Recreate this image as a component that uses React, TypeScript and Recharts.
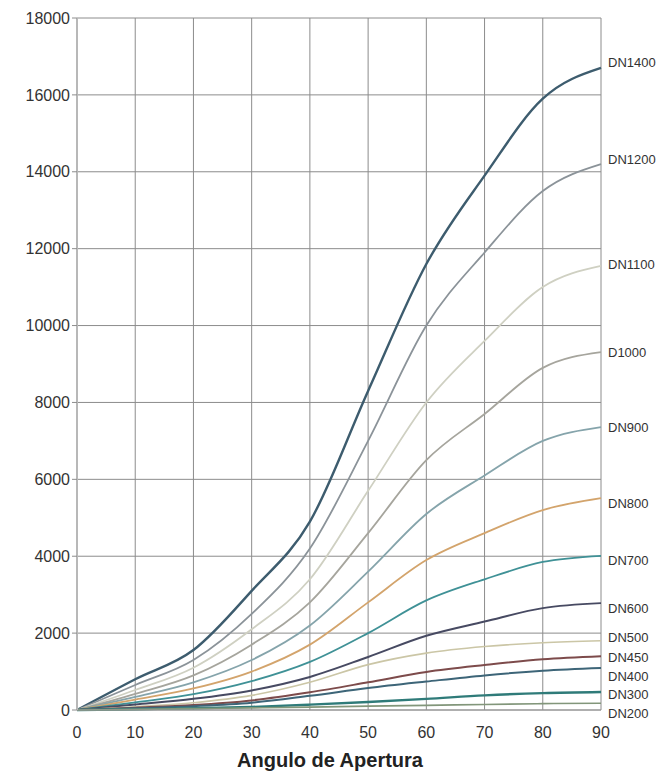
import React from 'react';
import { LineChart, Line, XAxis, YAxis, CartesianGrid } from 'recharts';

const angles = [0, 10, 20, 30, 40, 50, 60, 70, 80, 90];
const yTicks = [0, 2000, 4000, 6000, 8000, 10000, 12000, 14000, 16000, 18000];

const dn1400 = [0, 800, 1560, 3100, 4900, 8300, 11600, 13900, 15900, 16700];
const dn1200 = [0, 650, 1300, 2500, 4200, 7000, 10000, 11900, 13500, 14200];
const dn1100 = [0, 520, 1100, 2100, 3400, 5700, 8000, 9600, 11000, 11550];
const d1000 = [0, 420, 900, 1700, 2800, 4600, 6500, 7700, 8900, 9310];
const dn900 = [0, 340, 720, 1300, 2200, 3600, 5100, 6100, 7000, 7360];
const dn800 = [0, 270, 560, 1000, 1700, 2800, 3900, 4600, 5200, 5510];
const dn700 = [0, 200, 410, 750, 1250, 2000, 2850, 3400, 3850, 4010];
const dn600 = [0, 140, 290, 510, 860, 1380, 1930, 2300, 2650, 2780];
const dn500 = [0, 85, 190, 380, 720, 1180, 1480, 1650, 1750, 1800];
const dn450 = [0, 60, 130, 250, 460, 720, 990, 1170, 1320, 1400];
const dn400 = [0, 45, 100, 190, 370, 570, 740, 900, 1020, 1090];
const dn300 = [0, 20, 45, 80, 140, 210, 290, 380, 440, 470];
const dn200 = [0, 15, 35, 55, 75, 100, 120, 145, 165, 175];

const series = [
  { key: 'DN1400', values: dn1400, color: '#3d5c6e', width: 2.4, dy: -5 },
  { key: 'DN1200', values: dn1200, color: '#8b9399', width: 1.8, dy: -5 },
  { key: 'DN1100', values: dn1100, color: '#cfd0c2', width: 1.8, dy: -1 },
  { key: 'D1000', values: d1000, color: '#a6a59d', width: 1.8, dy: 0 },
  { key: 'DN900', values: dn900, color: '#85a4ab', width: 1.8, dy: 0 },
  { key: 'DN800', values: dn800, color: '#d3a46c', width: 1.8, dy: 5 },
  { key: 'DN700', values: dn700, color: '#3f9196', width: 1.8, dy: 5 },
  { key: 'DN600', values: dn600, color: '#474a62', width: 2, dy: 5 },
  { key: 'DN500', values: dn500, color: '#cbc6a6', width: 1.6, dy: -3 },
  { key: 'DN450', values: dn450, color: '#7d4b4b', width: 2, dy: 1 },
  { key: 'DN400', values: dn400, color: '#3d6578', width: 2, dy: 8 },
  { key: 'DN300', values: dn300, color: '#2f7b79', width: 2.4, dy: 3 },
  { key: 'DN200', values: dn200, color: '#82967a', width: 1.6, dy: 10 },
];

const rows = angles.map((a, i) => {
  const r: Record<string, number> = { angle: a };
  series.forEach((s) => {
    r[s.key] = s.values[i];
  });
  return r;
});

const font = '"Liberation Sans", Arial, sans-serif';

export default function App() {
  return (
    <div style={{ position: 'absolute', left: 0, top: 0, width: 661, height: 771, background: '#fff' }}>
      <LineChart
        width={661}
        height={771}
        data={rows}
        margin={{ top: 18, right: 60, left: 0, bottom: 0 }}
      >
        <CartesianGrid stroke="#8c8c8c" strokeWidth={1} />
        <XAxis
          dataKey="angle"
          type="number"
          domain={[0, 90]}
          ticks={angles}
          height={61}
          tickLine={false}
          tickSize={0}
          tickMargin={17}
          axisLine={{ stroke: '#999' }}
          tick={{ fill: '#333', fontSize: 16, fontFamily: font }}
          label={{
            value: 'Angulo de Apertura',
            position: 'insideBottom',
            offset: 4,
            dx: -9,
            style: { fill: '#222', fontSize: 20, fontWeight: 'bold', fontFamily: font },
          }}
        />
        <YAxis
          type="number"
          domain={[0, 18000]}
          ticks={yTicks}
          width={77}
          tickSize={5}
          tickMargin={2}
          tickLine={{ stroke: '#8c8c8c' }}
          axisLine={{ stroke: '#b8b8b8', strokeWidth: 2 }}
          tick={{ fill: '#333', fontSize: 16, fontFamily: font }}
          interval={0}
        />
        {series.map((s) => (
          <Line
            key={s.key}
            dataKey={s.key}
            type="monotone"
            stroke={s.color}
            strokeWidth={s.width}
            dot={false}
            isAnimationActive={false}
            label={(p: any) =>
              p.index === angles.length - 1 ? (
                <text
                  key={s.key + '-lbl'}
                  x={p.x + 7}
                  y={p.y + s.dy}
                  dominantBaseline="central"
                  fill="#333"
                  fontSize={13}
                  fontFamily={font}
                >
                  {s.key}
                </text>
              ) : (
                <g key={s.key + '-n' + p.index} />
              )
            }
          />
        ))}
      </LineChart>
    </div>
  );
}
